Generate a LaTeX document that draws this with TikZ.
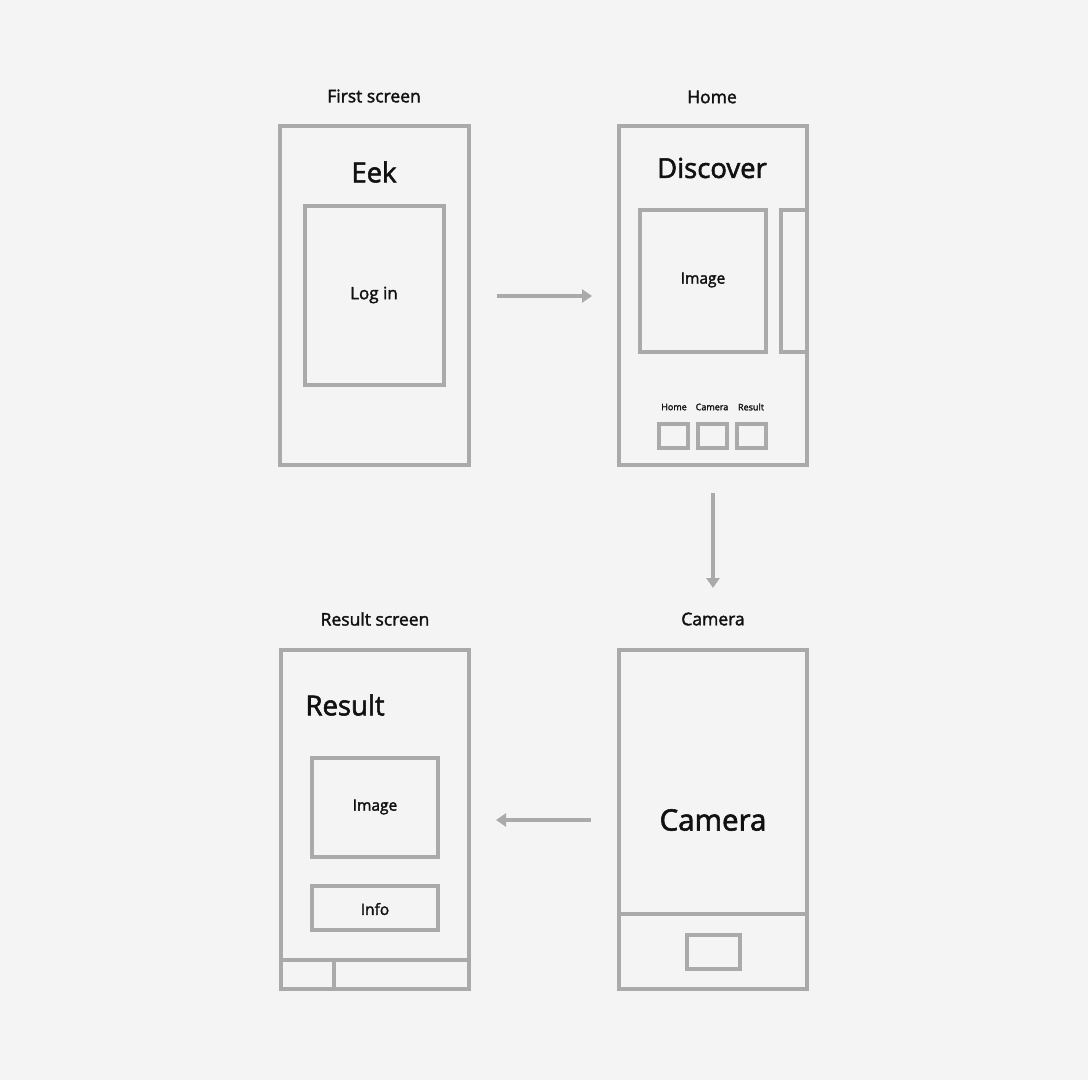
\documentclass[tikz,border=0pt]{standalone}
\usepackage{fontspec}
\setmainfont{Open Sans}[FakeBold=2]
\usetikzlibrary{arrows.meta,positioning}
\definecolor{wireframe}{HTML}{AAAAAA}
\definecolor{paper}{HTML}{F4F4F4}
\definecolor{ink}{HTML}{111111}

\begin{document}
\begin{tikzpicture}[x=1pt,y=-1pt,
    frame/.style={draw=wireframe,line width=4pt},
    flow/.style={draw=wireframe,line width=4pt,-{Triangle[length=10pt,width=13pt]}},
    caption/.style={text=ink,font=\fontsize{17.5}{20}\selectfont},
    title/.style={text=ink,font=\fontsize{27.5}{32}\selectfont},
    body/.style={text=ink,font=\fontsize{15.5}{18}\selectfont},
    tiny/.style={text=ink,font=\fontsize{9}{11}\selectfont}]
    % background
    \fill[paper] (0,0) rectangle (1088,1080);

    % First screen
    \node[caption] (firstcap) at (374,96) {First screen};
    \draw[frame] (280,126) rectangle (469,465);
    \node[title] (eek) at (374,172) {Eek};
    \draw[frame] (305,206) rectangle (444,385);
    \node[body,font=\fontsize{17}{20}\selectfont] (login) at (374,295) {Log in};

    % Home
    \node[caption] (homecap) at (712,97) {Home};
    \draw[frame] (619,126) rectangle (807,465);
    \node[title] (discover) at (712,168) {Discover};
    \draw[frame] (640,210) rectangle (766,352);
    \node[body] (homeimg) at (703,280) {Image};
    \draw[frame] (807,210) -- (781,210) -- (781,352) -- (807,352);
    \node[tiny] (tabhome) at (674,407) {Home};
    \node[tiny] (tabcam) at (712,407) {Camera};
    \node[tiny] (tabres) at (751,407) {Result};
    \foreach \x in {659,698,737}
        \draw[frame] (\x,424) rectangle ++(29,24);

    % Camera
    \node[caption] (camcap) at (713,619) {Camera};
    \draw[frame] (619,650) rectangle (807,989);
    \draw[frame] (619,914) -- (807,914);
    \node[title,font=\fontsize{29.5}{34}\selectfont] (camview) at (713,820) {Camera};
    \draw[frame] (687,935) rectangle (740,969);

    % Result screen
    \node[caption] (rescap) at (375,619) {Result screen};
    \draw[frame] (281,650) rectangle (469,989);
    \node[title,anchor=west] (result) at (302,705) {Result};
    \draw[frame] (312,758) rectangle (438,857);
    \node[body] (resimg) at (375,807) {Image};
    \draw[frame] (312,886) rectangle (438,930);
    \node[body] (info) at (375,909) {Info};
    \draw[frame] (281,960) -- (469,960);
    \draw[frame] (334,960) -- (334,989);

    % flow between screens
    \coordinate (loginout) at (497,296);
    \coordinate (homein) at (592,296);
    \coordinate (homeout) at (713,493);
    \coordinate (camin) at (713,588);
    \coordinate (camout) at (591,820);
    \coordinate (resin) at (496,820);
    \draw[flow] (loginout) -- (homein);
    \draw[flow] (homeout) -- (camin);
    \draw[flow] (camout) -- (resin);
\end{tikzpicture}
\end{document}
